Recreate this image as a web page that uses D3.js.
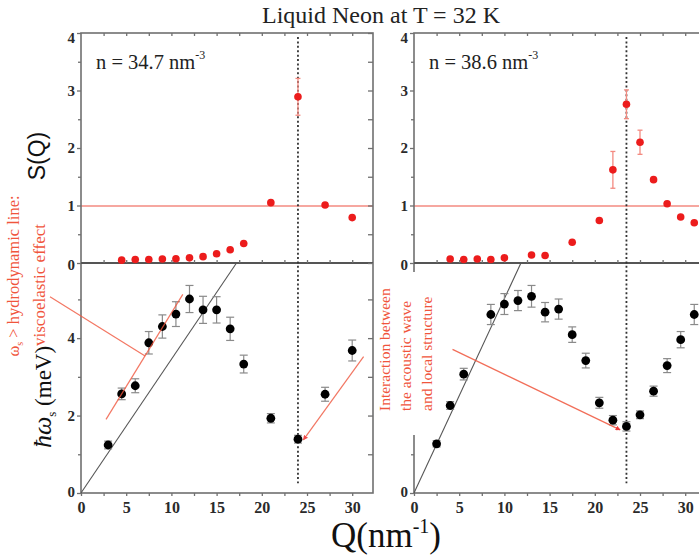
<!DOCTYPE html>
<html><head><meta charset="utf-8">
<script src="https://cdn.jsdelivr.net/npm/d3@7"></script>
<style>body{margin:0;background:#fff}svg{display:block}</style>
</head><body>
<svg id="c" width="699" height="559"></svg>
<script>
// ---------------- data ----------------
const qLeftS   = [4.5, 6, 7.5, 9, 10.5, 12, 13.5, 15, 16.5, 18, 21, 24, 27, 30];
const sLeft    = [0.05, 0.06, 0.06, 0.07, 0.075, 0.09, 0.11, 0.16, 0.23, 0.34, 1.05, 2.89, 1.01, 0.79];
const sLeftErr = [0, 0, 0, 0, 0, 0, 0, 0, 0, 0, 0, 0.32, 0, 0];

const qLeftW   = [3, 4.5, 6, 7.5, 9, 10.5, 12, 13.5, 15, 16.5, 18, 21, 24, 27, 30];
const wLeft    = [1.24, 2.56, 2.77, 3.88, 4.30, 4.62, 5.01, 4.73, 4.73, 4.24, 3.33, 1.93, 1.39, 2.55, 3.68];
const wLeftErr = [0.10, 0.15, 0.18, 0.29, 0.30, 0.32, 0.35, 0.35, 0.34, 0.30, 0.23, 0.12, 0.10, 0.18, 0.27];

const qRightS   = [4, 5.5, 7, 8.5, 10, 13, 14.5, 17.5, 20.5, 22, 23.5, 25, 26.5, 28, 29.5, 31];
const sRight    = [0.07, 0.06, 0.07, 0.06, 0.09, 0.14, 0.13, 0.36, 0.74, 1.62, 2.76, 2.10, 1.45, 1.03, 0.80, 0.70];
const sRightErr = [0, 0, 0, 0, 0, 0, 0, 0, 0, 0.32, 0.25, 0.21, 0, 0, 0, 0];

const qRightW   = [2.5, 4, 5.5, 8.5, 10, 11.5, 13, 14.5, 16, 17.5, 19, 20.5, 22, 23.5, 25, 26.5, 28, 29.5, 31];
const wRight    = [1.27, 2.26, 3.07, 4.61, 4.88, 4.97, 5.08, 4.67, 4.75, 4.09, 3.42, 2.33, 1.88, 1.72, 2.02, 2.63, 3.29, 3.96, 4.61];
const wRightErr = [0.08, 0.10, 0.15, 0.26, 0.27, 0.26, 0.28, 0.25, 0.26, 0.20, 0.19, 0.14, 0.12, 0.12, 0.10, 0.13, 0.18, 0.21, 0.26];

const densityLeft = "34.7", densityRight = "38.6";
const peakLeft = 24, peakRight = 23.5;
const hydroLeft  = [[0, 0], [17.2, 5.94]];
const hydroRight = [[0, 0], [11.83, 5.94]];
const viscoLineA = [[2.77, 1.90], [11.26, 5.13]];
const viscoLineB = [[24.6, 1.37], [31.26, 3.52]];
const viscoPointer = [[-3.43, 5.07], [7.09, 3.54]];
const interArrow = [[4.26, 3.71], [22.8, 1.63]];

const xTicksMajor = [0, 5, 10, 15, 20, 25, 30];
const xTicksMinor = [2.5, 7.5, 12.5, 17.5, 22.5, 27.5, 32.5];
const sTicks = [0, 1, 2, 3, 4];
const sTicksMinor = [0.5, 1.5, 2.5, 3.5];
const wTicks = [0, 2, 4];
const wTicksMinor = [1, 3, 5];

const titleText = "Liquid Neon at T = 32 K";
const leftNote = ["hydrodynamic line:", "viscoelastic effect"];
const rightNote = ["Interaction between", "the acoustic wave", "and local structure"];

// ---------------- drawing ----------------
const svg = d3.select('#c');
const serif = "'Liberation Serif','Times New Roman',serif";
const sans = "'Liberation Sans',Arial,sans-serif";
const RED = '#ec1c1c', RED_TXT = '#f0553c', RED_LIGHT = '#f38a80', FRAME = '#707070', ERR = '#8a8a8a';

const yS = d3.scaleLinear().domain([0, 4]).range([263, 33]);
const yW = d3.scaleLinear().domain([0, 5.94]).range([493, 263]);

const defs = svg.append('defs');
defs.append('marker').attr('id', 'ah').attr('viewBox', '0 0 10 10').attr('refX', 9).attr('refY', 5)
  .attr('markerWidth', 5).attr('markerHeight', 5).attr('orient', 'auto-start-reverse')
  .attr('markerUnits', 'userSpaceOnUse')
  .append('path').attr('d', 'M0,0 L10,5 L0,10 z').attr('fill', RED);

function styleAxis(g, fontSize) {
  g.select('.domain').remove();
  g.selectAll('.tick line').attr('stroke', FRAME).attr('stroke-width', 1.3);
  g.selectAll('.tick text').attr('font-family', serif).attr('font-size', fontSize)
    .attr('font-weight', 'bold').attr('fill', '#2a2a2a');
}

function panel(x0, d) {
  const x = d3.scaleLinear().domain([0, 32.3]).range([x0, x0 + 292]);
  const g = svg.append('g');
  const line = d3.line().x(p => x(p[0]));

  // S = 1 reference
  g.append('line').attr('x1', x(0)).attr('x2', x(32.3)).attr('y1', Math.round(yS(1))).attr('y2', Math.round(yS(1)))
    .attr('stroke', RED_LIGHT).attr('stroke-width', 1.3);

  // frame
  g.append('rect').attr('x', x(0)).attr('y', yS(4)).attr('width', x(32.3) - x(0)).attr('height', yW(0) - yS(4))
    .attr('fill', 'none').attr('stroke', FRAME).attr('stroke-width', 1.6);
  g.append('line').attr('x1', x(0)).attr('x2', x(32.3)).attr('y1', yS(0)).attr('y2', yS(0))
    .attr('stroke', '#555').attr('stroke-width', 2.2);

  // axes
  const gl = g.append('g').attr('transform', `translate(${x(0)},0)`)
    .call(d3.axisLeft(yS).tickValues(sTicks).tickFormat(d3.format('d')).tickSize(4).tickPadding(2));
  styleAxis(gl, 15);
  gl.selectAll('.tick').filter(v => v === 4).select('text').attr('dy', '0.6em');
  gl.selectAll('.tick').filter(v => v === 0).select('text').attr('dy', '0.45em');
  const glm = g.append('g').attr('transform', `translate(${x(0)},0)`)
    .call(d3.axisLeft(yS).tickValues(sTicksMinor).tickFormat('').tickSize(3));
  styleAxis(glm, 15);
  const gw = g.append('g').attr('transform', `translate(${x(0)},0)`)
    .call(d3.axisLeft(yW).tickValues(wTicks).tickFormat(d3.format('d')).tickSize(4).tickPadding(2));
  styleAxis(gw, 15);
  gw.selectAll('.tick').filter(v => v === 0).select('text').attr('dy', '0.2em');
  const gwm = g.append('g').attr('transform', `translate(${x(0)},0)`)
    .call(d3.axisLeft(yW).tickValues(wTicksMinor).tickFormat('').tickSize(3));
  styleAxis(gwm, 15);
  // right spine inward ticks
  const gr = g.append('g').attr('transform', `translate(${x(32.3)},0)`)
    .call(d3.axisRight(yS).tickValues(sTicks.concat(sTicksMinor)).tickFormat('').tickSize(-5));
  styleAxis(gr, 15);
  const grw = g.append('g').attr('transform', `translate(${x(32.3)},0)`)
    .call(d3.axisRight(yW).tickValues([1, 2, 3, 4, 5]).tickFormat('').tickSize(-5));
  styleAxis(grw, 15);
  // top inward ticks
  const gt = g.append('g').attr('transform', `translate(0,${yS(4)})`)
    .call(d3.axisBottom(x).tickValues(xTicksMajor.concat(xTicksMinor).filter(v => v > 0 && v < 32.3)).tickFormat('').tickSize(3));
  styleAxis(gt, 15);
  // divider ticks
  const gm = g.append('g').attr('transform', `translate(0,${yS(0)})`)
    .call(d3.axisTop(x).tickValues(xTicksMajor.concat(xTicksMinor).filter(v => v > 0 && v < 32.3)).tickFormat('').tickSize(3));
  styleAxis(gm, 15);
  // bottom axis
  const gb = g.append('g').attr('transform', `translate(0,${yW(0)})`)
    .call(d3.axisBottom(x).tickValues(xTicksMajor).tickFormat(d3.format('d')).tickSize(3).tickPadding(6));
  styleAxis(gb, 16);
  const gbm = g.append('g').attr('transform', `translate(0,${yW(0)})`)
    .call(d3.axisBottom(x).tickValues(xTicksMinor.filter(v => v < 32.3)).tickFormat('').tickSize(3));
  styleAxis(gbm, 16);

  // dotted peak line
  g.append('line').attr('x1', x(d.peak)).attr('x2', x(d.peak)).attr('y1', yS(3.93)).attr('y2', yW(0.25))
    .attr('stroke', '#333').attr('stroke-width', 1.8).attr('stroke-dasharray', '2,2.4');

  // hydrodynamic line
  g.append('path').attr('d', line.y(p => yW(p[1]))(d.hydro)).attr('stroke', '#555').attr('stroke-width', 1.1).attr('fill', 'none');

  // S(Q) error bars and points
  const sData = d.qS.map((q, i) => ({ q, v: d.s[i], e: d.sErr[i] })).filter(p => p.e > 0);
  const se = g.append('g').attr('stroke', RED_LIGHT).attr('stroke-width', 1.3);
  sData.forEach(p => {
    se.append('line').attr('x1', x(p.q)).attr('x2', x(p.q)).attr('y1', yS(p.v - p.e)).attr('y2', yS(p.v + p.e));
    [p.v - p.e, p.v + p.e].forEach(v => se.append('line').attr('x1', x(p.q) - 2.5).attr('x2', x(p.q) + 2.5).attr('y1', yS(v)).attr('y2', yS(v)));
  });
  g.append('g').selectAll('circle').data(d.qS).join('circle')
    .attr('cx', q => x(q)).attr('cy', (q, i) => yS(d.s[i])).attr('r', 3.8).attr('fill', RED);

  // omega error bars and points
  const we = g.append('g').attr('stroke', ERR).attr('stroke-width', 1.2);
  d.qW.forEach((q, i) => {
    const v = d.w[i], e = d.wErr[i];
    we.append('line').attr('x1', x(q)).attr('x2', x(q)).attr('y1', yW(v - e)).attr('y2', yW(v + e));
    [v - e, v + e].forEach(u => we.append('line').attr('x1', x(q) - 4).attr('x2', x(q) + 4).attr('y1', yW(u)).attr('y2', yW(u)));
  });
  g.append('g').selectAll('circle').data(d.qW).join('circle')
    .attr('cx', q => x(q)).attr('cy', (q, i) => yW(d.w[i])).attr('r', 4.4).attr('fill', '#000');

  // density label
  const t = g.append('text').attr('x', x0 + 15).attr('y', 69).attr('font-family', serif).attr('font-size', 20.5).attr('fill', '#222');
  t.append('tspan').text(`n = ${d.density} nm`);
  t.append('tspan').attr('font-size', 12).attr('dy', -10).text('-3');

  return { x, g, line };
}

const L = panel(81, { qS: qLeftS, s: sLeft, sErr: sLeftErr, qW: qLeftW, w: wLeft, wErr: wLeftErr, peak: peakLeft, hydro: hydroLeft, density: densityLeft });
const R = panel(414, { qS: qRightS, s: sRight, sErr: sRightErr, qW: qRightW, w: wRight, wErr: wRightErr, peak: peakRight, hydro: hydroRight, density: densityRight });

// red annotation lines (left panel)
const lineL = d3.line().x(p => L.x(p[0])).y(p => yW(p[1]));
svg.append('path').attr('d', lineL(viscoLineA)).attr('stroke', RED_TXT).attr('stroke-width', 1.2).attr('fill', 'none').attr('opacity', 0.8);
svg.append('path').attr('d', lineL(viscoLineB)).attr('stroke', RED_TXT).attr('stroke-width', 1.2).attr('fill', 'none').attr('opacity', 0.8)
  .attr('marker-start', 'url(#ah)');
svg.append('path').attr('d', lineL(viscoPointer)).attr('stroke', RED_TXT).attr('stroke-width', 1.2).attr('fill', 'none').attr('opacity', 0.8);
// right panel arrow
const lineR = d3.line().x(p => R.x(p[0])).y(p => yW(p[1]));
svg.append('path').attr('d', lineR(interArrow)).attr('stroke', RED_TXT).attr('stroke-width', 1.2).attr('fill', 'none').attr('opacity', 0.85)
  .attr('marker-end', 'url(#ah)');

// white box in the gap for the right annotation
svg.append('rect').attr('x', 374).attr('y', 272).attr('width', 59).attr('height', 163).attr('fill', '#fff');
rightNote.forEach((s, i) => {
  svg.append('text').attr('transform', `translate(${390 + i * 21},411) rotate(-90)`)
    .attr('font-family', serif).attr('font-size', 15.5).attr('fill', RED_TXT).text(s);
});

// left annotation (rotated)
const ln1 = svg.append('text').attr('transform', 'translate(19,276) rotate(-90)').attr('text-anchor', 'middle')
  .attr('font-family', serif).attr('font-size', 16.5).attr('fill', RED_TXT);
ln1.append('tspan').text('ω');
ln1.append('tspan').attr('font-size', 10).attr('dy', 4).text('s');
ln1.append('tspan').attr('dy', -4).text(' > ' + leftNote[0]);
svg.append('text').attr('transform', 'translate(45,285) rotate(-90)').attr('text-anchor', 'middle')
  .attr('font-family', serif).attr('font-size', 17).attr('fill', RED_TXT).text(leftNote[1]);

// axis titles
svg.append('text').attr('transform', 'translate(45,156) rotate(-90)').attr('text-anchor', 'middle')
  .attr('font-family', sans).attr('font-size', 23).attr('fill', '#111').text('S(Q)');
const wl = svg.append('text').attr('transform', 'translate(51,397) rotate(-90)').attr('text-anchor', 'middle')
  .attr('font-family', serif).attr('font-size', 23).attr('fill', '#111');
wl.append('tspan').attr('font-style', 'italic').attr('font-size', 26).text('ħω');
wl.append('tspan').attr('font-size', 13).attr('dy', 5).text('s');
wl.append('tspan').attr('dy', -5).text(' (meV)');

const ql = svg.append('text').attr('x', 386).attr('y', 547).attr('text-anchor', 'middle')
  .attr('font-family', serif).attr('font-size', 35).attr('fill', '#111');
ql.append('tspan').text('Q(nm');
ql.append('tspan').attr('font-size', 20).attr('dy', -14).text('-1');
ql.append('tspan').attr('dy', 14).text(')');

// title
svg.append('text').attr('x', 381).attr('y', 23).attr('text-anchor', 'middle')
  .attr('textLength', 238).attr('lengthAdjust', 'spacingAndGlyphs')
  .attr('font-family', serif).attr('font-size', 24).attr('fill', '#222').text(titleText);
</script>
</body></html>
